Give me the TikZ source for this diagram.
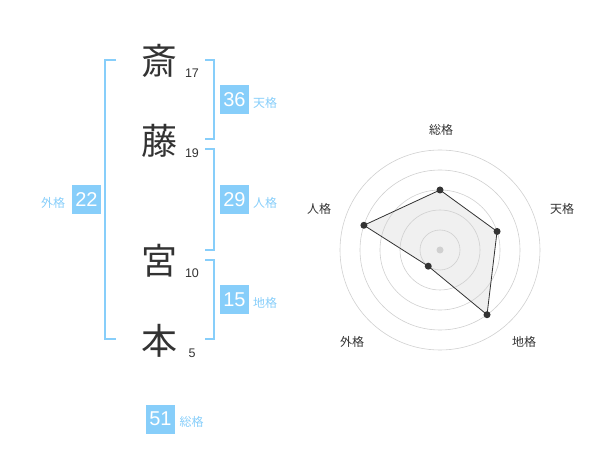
\documentclass[tikz,border=0pt]{standalone}
\usepackage{fontspec}
\setmainfont{Liberation Sans}
\newfontfamily\jp{Noto Sans CJK JP}
\definecolor{skyb}{HTML}{87CEFA}
\definecolor{ink}{HTML}{333333}
\definecolor{ring}{HTML}{D0D0D0}
\definecolor{area}{HTML}{F0F0F0}
\tikzset{
  kanji/.style={font=\jp\fontsize{36}{36}\selectfont, text=ink, inner sep=0pt},
  strokes/.style={font=\fontsize{12.5}{12.5}\selectfont, text=ink, inner sep=0pt},
  score/.style={fill=skyb, text=white, minimum size=29pt, inner sep=0pt, font=\fontsize{20}{20}\selectfont},
  kaku/.style={font=\jp\fontsize{12}{12}\selectfont, text=skyb, inner sep=0pt},
  axis/.style={font=\jp\fontsize{12}{12}\selectfont, text=ink, inner sep=0pt},
  dot/.style={circle, fill=ink, inner sep=0pt, minimum size=7pt},
  bracket/.style={draw=skyb, line width=2pt}
}
\begin{document}
\begin{tikzpicture}[x=1pt,y=-1pt]
      \useasboundingbox (0,0) rectangle (600,470);
      \draw
        (159,61) node[kanji] (sai){斎}
        (159,141) node[kanji] (fuji){藤}
        (159,261) node[kanji] (miya){宮}
        (159,341) node[kanji] (moto){本}
        (192,73) node[strokes] (n1){17}
        (192,153) node[strokes] (n2){19}
        (192,273) node[strokes] (n3){10}
        (192,353) node[strokes] (n4){5};
      \begin{scope}[bracket]
        \draw (116,60) -- (105,60) -- (105,339) -- (116,339);
        \draw (205,60) -- (214,60) -- (214,139) -- (205,139);
        \draw (205,149) -- (214,149) -- (214,250) -- (205,250);
        \draw (205,260) -- (214,260) -- (214,339) -- (205,339);
      \end{scope}
      \draw
        (234.5,100) node[score] (ten){36}
        (234.5,200) node[score] (jin){29}
        (234.5,300) node[score] (chi){15}
        (86.5,200) node[score] (gai){22}
        (160.5,419) node[score] (sou){51}
        (265,103) node[kaku] (tenl){天格}
        (265,203) node[kaku] (jinl){人格}
        (265,303) node[kaku] (chil){地格}
        (53,203) node[kaku] (gail){外格}
        (191.5,422) node[kaku] (soul){総格};
      % radar
      \begin{scope}[shift={(440,250)}, y=1pt]
        \fill[area] (90:60) -- (18:60) -- (-54:80) -- (-126:20) -- (162:80) -- cycle;
        \foreach \r in {20,40,...,100}
          \draw[ring, line width=0.6pt] (0,0) circle (\r);
        \fill[ring] (0,0) circle (3.5);
        \draw
          (90:60) node[dot] (p1){}
          (18:60) node[dot] (p2){}
          (-54:80) node[dot] (p3){}
          (-126:20) node[dot] (p4){}
          (162:80) node[dot] (p5){};
        \draw[ink, line width=0.8pt] (p1.center) -- (p2.center) -- (p3.center) -- (p4.center) -- (p5.center) -- cycle;
        \draw
          (1,120) node[axis] (a1){総格}
          (122,41) node[axis] (a2){天格}
          (84,-92) node[axis] (a3){地格}
          (-88,-92) node[axis] (a4){外格}
          (-121,41) node[axis] (a5){人格};
      \end{scope}
    \end{tikzpicture}
\end{document}
